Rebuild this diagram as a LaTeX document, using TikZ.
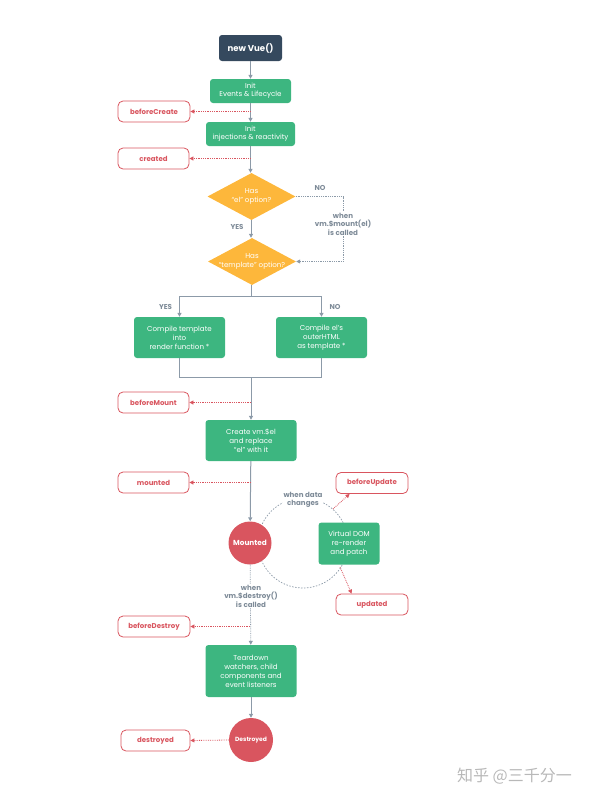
\documentclass[tikz,border=0pt]{standalone}
\usepackage{fontspec}
\setmainfont{Poppins}
\newfontfamily\cjk{Noto Sans CJK SC}
\usetikzlibrary{shapes.geometric,arrows.meta,calc}
\definecolor{vnavy}{HTML}{35495E}
\definecolor{vgreen}{HTML}{3DB680}
\definecolor{vred}{HTML}{D9555F}
\definecolor{vorange}{HTML}{FDB73B}
\definecolor{vline}{HTML}{8C9AA8}
\definecolor{vlabel}{HTML}{7E8B98}
\begin{document}
\begin{tikzpicture}[x=1pt,y=-1pt,
  txt/.style={font=\fontsize{7.1}{9}\selectfont},
  greenbox/.style={rectangle, rounded corners=3pt, fill=vgreen, text=white, txt, align=center, inner sep=0pt},
  hookbox/.style={rectangle, rounded corners=5pt, draw=vred, line width=0.8pt, fill=white, text=vred,
     font=\fontsize{7}{8}\selectfont\bfseries, minimum width=71pt, minimum height=21pt, inner sep=0pt},
  decision/.style={diamond, fill=vorange, inner sep=0pt, minimum width=88pt, minimum height=47pt},
  dtext/.style={text=white, txt, align=center, inner sep=0pt},
  lifecircle/.style={circle, fill=vred, text=white, font=\fontsize{7.3}{8}\selectfont\bfseries,
     minimum size=43pt, inner sep=0pt},
  glabel/.style={text=vlabel, font=\fontsize{7.1}{8.6}\selectfont\bfseries, align=center, inner sep=1pt},
  flow/.style={draw=vline, line width=1pt},
  flowarrow/.style={flow, -{Triangle[length=4pt,width=4pt]}},
  hookarrow/.style={draw=vred, line width=0.8pt, densely dotted, -{Triangle[length=4pt,width=4pt]}},
  grayarrow/.style={draw=vline, line width=0.8pt, densely dotted, -{Triangle[length=4pt,width=4pt]}},
  cycle/.style={draw=vline, line width=0.7pt, dash pattern=on 1.5pt off 1.5pt}
]
\useasboundingbox (0,0) rectangle (593,803);

% cycle circle (drawn first, under nodes)
\coordinate (cc) at (303,543);
\draw[cycle] (cc) circle (45pt);

% main nodes
\node[rectangle, rounded corners=3pt, fill=vnavy, text=white, font=\fontsize{8.6}{10}\selectfont\bfseries,
      minimum width=63pt, minimum height=26pt, inner sep=0pt] (nv) at (250.5,48) {new Vue()};
\node[greenbox, minimum width=81pt, minimum height=24pt, font=\fontsize{7.1}{8.3}\selectfont] (ie) at (250.5,91) {Init\\Events \& Lifecycle};
\node[greenbox, minimum width=89pt, minimum height=24pt, font=\fontsize{7.1}{8.3}\selectfont] (ii) at (250.5,134) {Init\\injections \& reactivity};
\node[decision] (d1) at (251.5,196.5) {};
\node[dtext] (d1t) at (d1) {Has\\“el” option?};
\node[decision] (d2) at (252,261.5) {};
\node[dtext] (d2t) at (d2) {Has\\“template” option?};
\node[greenbox, minimum width=91pt, minimum height=41pt] (ct) at (179.5,337.5) {Compile template\\into\\render function *};
\node[greenbox, minimum width=91pt, minimum height=41pt] (ce) at (321.5,337.5) {Compile el’s\\outerHTML\\as template *};
\node[greenbox, minimum width=91pt, minimum height=41pt] (cv) at (251,440.5) {Create vm.\$el\\and replace\\“el” with it};
\node[lifecircle] (mo) at (250,543) {Mounted};
\node[greenbox, minimum width=61pt, minimum height=42pt] (vd) at (349,543.5) {Virtual DOM\\re-render\\and patch};
\node[greenbox, minimum width=91pt, minimum height=52pt] (td) at (251,671) {Teardown\\watchers, child\\components and\\event listeners};
\node[lifecircle, minimum size=44pt, font=\fontsize{6}{7}\selectfont\bfseries] (de) at (251,740) {Destroyed};

% hooks
\node[hookbox, minimum width=72pt] (bc) at (154,111.5) {beforeCreate};
\node[hookbox] (cr) at (153.5,158.5) {created};
\node[hookbox] (bm) at (153.5,402.5) {beforeMount};
\node[hookbox] (md) at (153.5,482.5) {mounted};
\node[hookbox, minimum width=72pt] (bu) at (372,483) {beforeUpdate};
\node[hookbox, minimum width=72pt] (up) at (372,604.5) {updated};
\node[hookbox, minimum width=72pt] (bd) at (154,626.5) {beforeDestroy};
\node[hookbox, minimum width=69pt] (dd) at (155.5,740.5) {destroyed};

% main flow
\coordinate (split) at (251,296);
\coordinate (merge) at (251,377);
\draw[flowarrow] (nv) -- (ie);
\draw[flowarrow] (ie) -- (ii);
\draw[flowarrow] (ii.south) -- (ii.south |- d1.north);
\draw[flowarrow] (d1.south -| split) -- (d2.north -| split);
\draw[flow] (d2.south -| split) -- (split);
\draw[flowarrow] (split) -| (ct.north);
\draw[flowarrow] (split) -| (ce.north);
\draw[flow] (ct.south) |- (merge);
\draw[flow] (ce.south) |- (merge);
\draw[flowarrow] (merge) -- (cv.north);
\draw[flowarrow] (cv) -- (mo);
\draw[grayarrow] (mo) -- (td);
\draw[flowarrow] (td) -- (de);

% el option NO branch
\coordinate (mt) at (343,230);
\draw[grayarrow] (d1.east) -| (mt) |- (d2.east);
\node[glabel, fill=white] (ml) at (343,224) {when\\vm.\$mount(el)\\is called};
\node[glabel] (no1) at (320,188) {NO};
\node[glabel] (yes1) at (237,227) {YES};
\node[glabel] (yes2) at (165.5,307) {YES};
\node[glabel] (no2) at (335,307) {NO};

% hook arrows
\draw[hookarrow] (ie.south |- bc) -- (bc.east);
\draw[hookarrow] (ii.south |- cr) -- (cr.east);
\draw[hookarrow] (merge |- bm) -- (bm.east);
\draw[hookarrow] (cv.south |- md) -- (md.east);
\draw[hookarrow] (mo.south |- bd) -- (bd.east);
\draw[hookarrow] (de.west) -- (dd.east);

% update cycle
\node[glabel, fill=white] (wd) at (303,500) {when data\\changes};
\coordinate (au) at (333,509);
\coordinate (ad) at (340,567);
\draw[hookarrow] (au) -- ($(bu.south west)+(14,0)$);
\draw[hookarrow] (ad) -- ($(up.north west)+(16,0)$);

% destroy label
\node[glabel, fill=white] (wdl) at (251,596) {when\\vm.\$destroy()\\is called};

% watermark
\node[text=black!28, font=\cjk\fontsize{16}{18}\selectfont, inner sep=0pt] (wm) at (514.5,776) {知乎 @三千分一};
\end{tikzpicture}
\end{document}
